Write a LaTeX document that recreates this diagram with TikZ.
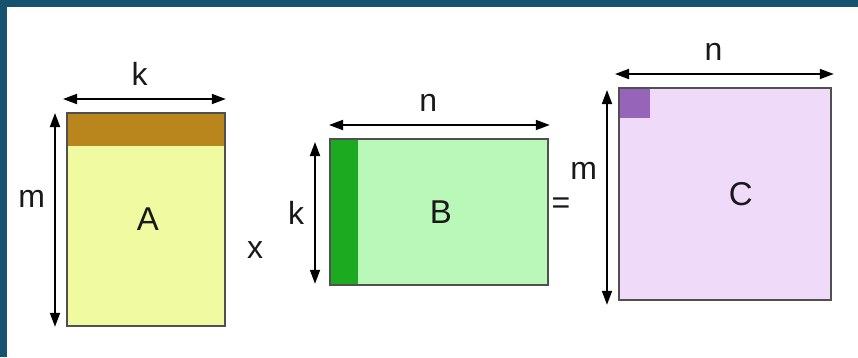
\documentclass[tikz,border=0pt]{standalone}
\usepackage{fontspec}
\setmainfont{Liberation Sans}
\usetikzlibrary{arrows.meta,positioning,calc}
\definecolor{frameblue}{RGB}{20,82,112}
\definecolor{matAfill}{RGB}{240,250,160}
\definecolor{matArow}{RGB}{184,134,28}
\definecolor{matBfill}{RGB}{186,248,186}
\definecolor{matBcol}{RGB}{28,170,32}
\definecolor{matCfill}{RGB}{240,218,250}
\definecolor{matCcell}{RGB}{150,100,184}
\definecolor{matedge}{RGB}{80,80,80}
\tikzset{
  mat/.style={rectangle, draw=matedge, line width=1.8pt, inner sep=0pt, anchor=north west},
  matname/.style={font=\fontsize{33}{35}\selectfont, text=black!90},
  dimarrow/.style={{Triangle[length=14pt,width=10pt]}-{Triangle[length=14pt,width=10pt]},
                   line width=1.8pt, black},
  dimlabel/.style={font=\fontsize{32}{34}\selectfont, inner sep=2pt, text=black!90},
  oplabel/.style={font=\fontsize{32}{34}\selectfont, text=black!90},
}
\begin{document}
\begin{tikzpicture}[x=1pt, y=-1pt]
\fill[frameblue] (0,0) rectangle (858,357);
\useasboundingbox (0,0) rectangle (858,357);
\fill[white] (7,7) rectangle (858,357);
% the three matrices
\node[mat, fill=matAfill, minimum width=158pt, minimum height=213pt,
      path picture={\fill[matArow] (path picture bounding box.north west)
        rectangle ([yshift=-33pt]path picture bounding box.north east);}] (A) at (66,112) {};
\node[mat, fill=matBfill, minimum width=218pt, minimum height=146pt,
      path picture={\fill[matBcol] (path picture bounding box.north west)
        rectangle ([xshift=28pt]path picture bounding box.south west);}] (B) at (329,138) {};
\node[mat, fill=matCfill, minimum width=212pt, minimum height=212pt,
      path picture={\fill[matCcell] (path picture bounding box.north west)
        rectangle ([shift={(31pt,-30pt)}]path picture bounding box.north west);}] (C) at (618,87) {};
\node[matname] (Aname) at ([xshift=2pt]A.center) {A};
\node[matname] (Bname) at ([xshift=2pt]B.center) {B};
\node[matname] (Cname) at ([xshift=16pt]C.center) {C};
% dimensions
\draw[dimarrow] ([shift={(-3pt,13pt)}]A.north west) -- node[dimlabel, pos=0.47, above=11pt]{k} ([yshift=13pt]A.north east);
\draw[dimarrow] ([shift={(-11pt,-1pt)}]A.north west) -- node[dimlabel, pos=0.4, left=7pt]{m} ([xshift=-11pt]A.south west);
\draw[dimarrow] ([yshift=13pt]B.north west) -- node[dimlabel, pos=0.45, above=11pt]{n} ([shift={(1pt,13pt)}]B.north east);
\draw[dimarrow] ([shift={(-14pt,-4pt)}]B.north west) -- node[dimlabel, left=8pt]{k} ([shift={(-14pt,2pt)}]B.south west);
\draw[dimarrow] ([shift={(-3pt,13pt)}]C.north west) -- node[dimlabel, pos=0.45, above=11pt]{n} ([shift={(2pt,13pt)}]C.north east);
\draw[dimarrow] ([shift={(-11pt,-3pt)}]C.north west) -- node[dimlabel, pos=0.375, left=7pt]{m} ([shift={(-11pt,-4pt)}]C.south west);
% operators
\node[oplabel] (times) at (255,250) {x};
\node[oplabel] (equals) at (561,206) {=};
\end{tikzpicture}
\end{document}
